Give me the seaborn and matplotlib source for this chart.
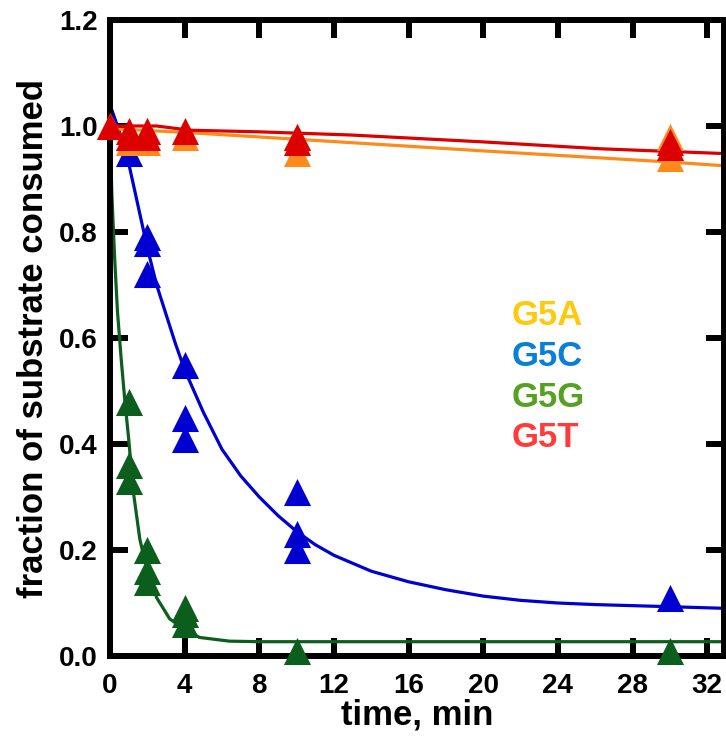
import matplotlib
matplotlib.use("Agg")
import matplotlib.pyplot as plt
import seaborn as sns
import pandas as pd

sns.set_theme(style="white")
plt.rcParams['font.family'] = ['Liberation Sans', 'DejaVu Sans']

# ---- measured data points (time in min, fraction of substrate) ----
g5a_t = [0, 1, 1, 2, 2, 4, 10, 10, 30, 30, 30]
g5a_y = [1.00, 0.98, 0.97, 0.99, 0.97, 0.98, 0.98, 0.95, 0.98, 0.96, 0.94]

g5c_t = [1, 2, 2, 2, 4, 4, 4, 10, 10, 10, 30]
g5c_y = [0.95, 0.79, 0.78, 0.72, 0.55, 0.45, 0.41, 0.31, 0.23, 0.20, 0.11]

g5g_t = [1, 1, 1, 2, 2, 2, 4, 4, 4, 10, 30]
g5g_y = [0.48, 0.36, 0.33, 0.20, 0.16, 0.14, 0.09, 0.08, 0.06, 0.01, 0.01]

g5t_t = [0, 1, 1, 2, 2, 4, 10, 10, 30, 30]
g5t_y = [1.00, 0.99, 0.98, 0.99, 0.98, 0.99, 0.98, 0.97, 0.97, 0.96]

# ---- fitted curves ----
fit_a_t = [0, 4, 10, 20, 30, 32.9]
fit_a_y = [0.995, 0.988, 0.975, 0.953, 0.932, 0.925]

fit_c_t = [0, 0.5, 1, 1.5, 2, 2.5, 3, 3.5, 4, 4.5, 5, 5.5, 6, 7, 8, 9, 10, 11, 12, 14, 16,
           18, 20, 22, 24, 26, 28, 30, 32.9]
fit_c_y = [1.04, 0.99, 0.93, 0.85, 0.77, 0.70, 0.645, 0.59, 0.54, 0.50, 0.46, 0.425, 0.39,
           0.34, 0.30, 0.265, 0.235, 0.21, 0.19, 0.16, 0.14, 0.125, 0.113, 0.105, 0.100,
           0.097, 0.095, 0.093, 0.090]

fit_g_t = [0, 0.1, 0.25, 0.4, 0.6, 0.8, 1.0, 1.25, 1.6, 2.0, 2.5, 3.2, 4.0, 4.8, 6.4, 8, 32.9]
fit_g_y = [1.0, 0.87, 0.75, 0.65, 0.56, 0.48, 0.41, 0.31, 0.22, 0.16, 0.11, 0.07, 0.05,
           0.035, 0.028, 0.027, 0.027]

fit_t_t = [0, 2.5, 4.3, 8, 12.9, 20, 26.3, 32.9]
fit_t_y = [1.0, 1.0, 0.992, 0.989, 0.983, 0.97, 0.957, 0.948]

labels = ["G5A", "G5C", "G5G", "G5T"]
mark_colors = {"G5A": "#ff8a1c", "G5C": "#0000d0", "G5G": "#0b5e1c", "G5T": "#dc0000"}
text_colors = {"G5A": "#ffc90e", "G5C": "#0a7fd6", "G5G": "#56a022", "G5T": "#ff3b3b"}

pts = pd.concat([
    pd.DataFrame({"t": g5g_t, "y": g5g_y, "s": "G5G"}),
    pd.DataFrame({"t": g5c_t, "y": g5c_y, "s": "G5C"}),
    pd.DataFrame({"t": g5a_t, "y": g5a_y, "s": "G5A"}),
    pd.DataFrame({"t": g5t_t, "y": g5t_y, "s": "G5T"}),
])
fits = pd.concat([
    pd.DataFrame({"t": fit_g_t, "y": fit_g_y, "s": "G5G"}),
    pd.DataFrame({"t": fit_c_t, "y": fit_c_y, "s": "G5C"}),
    pd.DataFrame({"t": fit_a_t, "y": fit_a_y, "s": "G5A"}),
    pd.DataFrame({"t": fit_t_t, "y": fit_t_y, "s": "G5T"}),
])

fig = plt.figure(figsize=(7.26, 7.38), dpi=100)
ax = fig.add_axes([110/726, 1 - 656/738, (724 - 110)/726, (656 - 20)/738])

order = ["G5G", "G5C", "G5A", "G5T"]
for s in order:
    sub = fits[fits.s == s]
    sns.lineplot(data=sub, x="t", y="y", color=mark_colors[s], lw=2.3, ax=ax,
                 estimator=None, sort=False, legend=False, zorder=2)
for s in order:
    sub = pts[pts.s == s]
    sns.scatterplot(data=sub, x="t", y="y", color=mark_colors[s], marker="^", s=380,
                    linewidth=0, ax=ax, legend=False, zorder=3, clip_on=False)

ax.set_xlim(0, 32.9)
ax.set_ylim(0, 1.2)
ax.set_xticks([0, 4, 8, 12, 16, 20, 24, 28, 32])
ax.set_yticks([0.0, 0.2, 0.4, 0.6, 0.8, 1.0, 1.2])
ax.set_yticklabels(["0.0", "0.2", "0.4", "0.6", "0.8", "1.0", "1.2"])

for sp in ax.spines.values():
    sp.set_visible(True)
    sp.set_color("black")
    sp.set_linewidth(4.3)
ax.tick_params(direction="in", length=13, width=4.3, top=True, right=True,
               bottom=True, left=True, labelsize=20, colors="black")
ax.tick_params(axis="x", pad=12)
ax.tick_params(axis="y", pad=9)
for lab in ax.get_xticklabels() + ax.get_yticklabels():
    lab.set_fontweight("bold")

ax.set_xlabel("time, min", fontsize=25, fontweight="bold", labelpad=0, color="black")
ax.set_ylabel("fraction of substrate consumed", fontsize=25, fontweight="bold",
              labelpad=6, color="black")

ys = [0.535, 0.471, 0.406, 0.344]
for s, yy in zip(labels, ys):
    ax.text(0.654, yy, s, transform=ax.transAxes, fontsize=25, fontweight="bold",
            color=text_colors[s], ha="left", va="center")

fig.savefig("out.png", dpi=100)
